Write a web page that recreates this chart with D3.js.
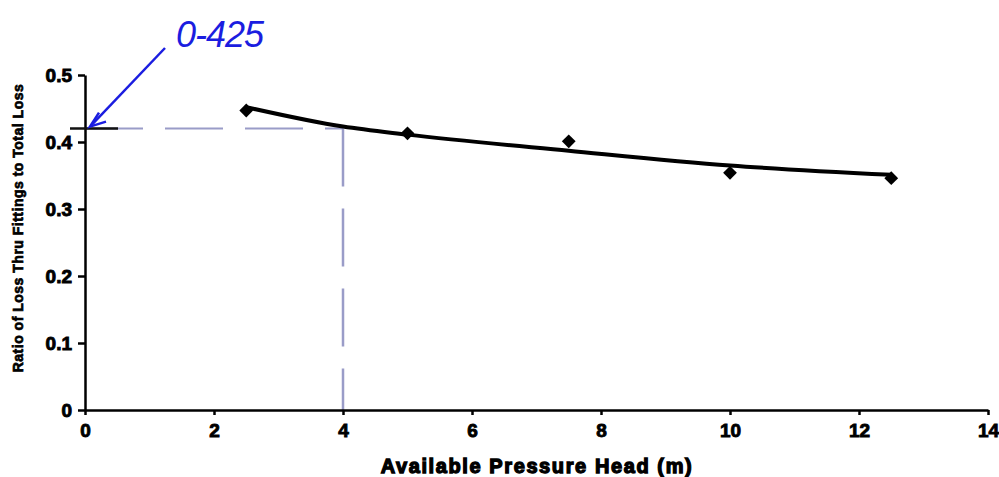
<!DOCTYPE html>
<html>
<head>
<meta charset="utf-8">
<script src="https://cdn.jsdelivr.net/npm/d3@7"></script>
<style>
  body { margin: 0; background: #fff; }
  text { font-family: "Liberation Sans", Arial, sans-serif; }
</style>
</head>
<body>
<script>
// chart size
let width = 999;
let height = 477;

// data
const headValues = [2.5, 5, 7.5, 10, 12.5];
const ratioValues = [0.447, 0.413, 0.401, 0.354, 0.346];

// trend line as drawn
const trendHead = [2.5, 4, 5, 7.5, 10, 12.5];
const trendRatio = [0.452, 0.423, 0.411, 0.387, 0.365, 0.351];

// read-off guide
const guideHead = 4;
const guideRatio = 0.42;
const noteText = "0-425";

const xTicks = [0, 2, 4, 6, 8, 10, 12, 14];
const yTicks = [0, 0.1, 0.2, 0.3, 0.4, 0.5];
const xTitle = "Available Pressure Head (m)";
const yTitle = "Ratio of Loss Thru Fittings to Total Loss";

let svg = d3.select("body")
  .append("svg")
  .attr("width", width)
  .attr("height", height);

const x = d3.scaleLinear().domain([0, 14]).range([85, 988]);
const y = d3.scaleLinear().domain([0, 0.5]).range([410, 75]);

let guide_color = "#9a9cc8";
let ink_color = "#1b1de0";

// dashed guide lines
svg.append("line")
  .attr("x1", x(0)).attr("x2", x(guideHead))
  .attr("y1", y(guideRatio)).attr("y2", y(guideRatio))
  .attr("stroke", guide_color).attr("stroke-width", 2)
  .attr("stroke-dasharray", "58,22");
svg.append("line")
  .attr("x1", x(guideHead)).attr("x2", x(guideHead))
  .attr("y1", y(guideRatio)).attr("y2", y(0))
  .attr("stroke", guide_color).attr("stroke-width", 2.5)
  .attr("stroke-dasharray", "58,22");

// axes
let yAxis = svg.append("g")
  .attr("transform", `translate(${x(0)},0)`)
  .call(d3.axisLeft(y).tickValues(yTicks).tickSize(7).tickSizeOuter(0)
    .tickFormat(d => d === 0 ? "0" : d3.format(".1f")(d)));
let xAxis = svg.append("g")
  .attr("transform", `translate(0,${y(0)})`)
  .call(d3.axisBottom(x).tickValues(xTicks).tickSize(5).tickSizeOuter(0));

[xAxis, yAxis].forEach(a => {
  a.select(".domain").attr("stroke", "#000").attr("stroke-width", 2.5);
  a.selectAll(".tick line").attr("stroke", "#000").attr("stroke-width", 2.5);
  a.selectAll(".tick text")
    .attr("fill", "#000")
    .attr("font-family", "Liberation Sans, Arial, sans-serif")
    .attr("font-size", 19)
    .attr("font-weight", "bold")
    .attr("stroke", "#000").attr("stroke-width", 0.9);
});
yAxis.selectAll(".tick text").attr("x", -13);
xAxis.selectAll(".tick text").attr("y", 14);

// axis titles
svg.append("text")
  .attr("x", 537).attr("y", 473)
  .attr("text-anchor", "middle")
  .attr("font-size", 20).attr("font-weight", "bold")
  .attr("stroke", "#000").attr("stroke-width", 1.3)
  .attr("letter-spacing", 1.6)
  .text(xTitle);

svg.append("text")
  .attr("transform", "translate(23,228) rotate(-90)")
  .attr("text-anchor", "middle")
  .attr("font-size", 14).attr("font-weight", "bold")
  .attr("stroke", "#000").attr("stroke-width", 0.7)
  .attr("letter-spacing", 0.5)
  .text(yTitle);

// trend line
svg.append("path")
  .datum(trendHead.map((h, i) => [h, trendRatio[i]]))
  .attr("fill", "none")
  .attr("stroke", "#000")
  .attr("stroke-width", 4)
  .attr("d", d3.line().x(d => x(d[0])).y(d => y(d[1])).curve(d3.curveMonotoneX));

// data points (square turned 45 degrees)
svg.selectAll(".pt")
  .data(headValues.map((h, i) => [h, ratioValues[i]]))
  .enter().append("path")
  .attr("class", "pt")
  .attr("transform", d => `translate(${x(d[0])},${y(d[1])}) rotate(45)`)
  .attr("d", d3.symbol().type(d3.symbolSquare).size(95))
  .attr("fill", "#000");

// handwritten note
svg.append("line")
  .attr("x1", 70).attr("x2", 118)
  .attr("y1", y(guideRatio)).attr("y2", y(guideRatio))
  .attr("stroke", "#111").attr("stroke-width", 2.5);

svg.append("line")
  .attr("x1", 165).attr("y1", 48)
  .attr("x2", x(0) + 6).attr("y2", y(guideRatio) - 3)
  .attr("stroke", ink_color).attr("stroke-width", 2.5);
svg.append("path")
  .attr("d", `M${x(0) + 14},${y(guideRatio) - 16} L${x(0) + 5},${y(guideRatio) - 2} L${x(0) + 21},${y(guideRatio) - 7}`)
  .attr("fill", "none")
  .attr("stroke", ink_color).attr("stroke-width", 2.5);

svg.append("text")
  .attr("x", 176).attr("y", 47)
  .attr("font-family", "DejaVu Sans, sans-serif")
  .attr("font-size", 36)
  .attr("fill", ink_color)
  .attr("font-style", "italic")
  .attr("letter-spacing", -1)
  .text(noteText);
</script>
</body>
</html>
